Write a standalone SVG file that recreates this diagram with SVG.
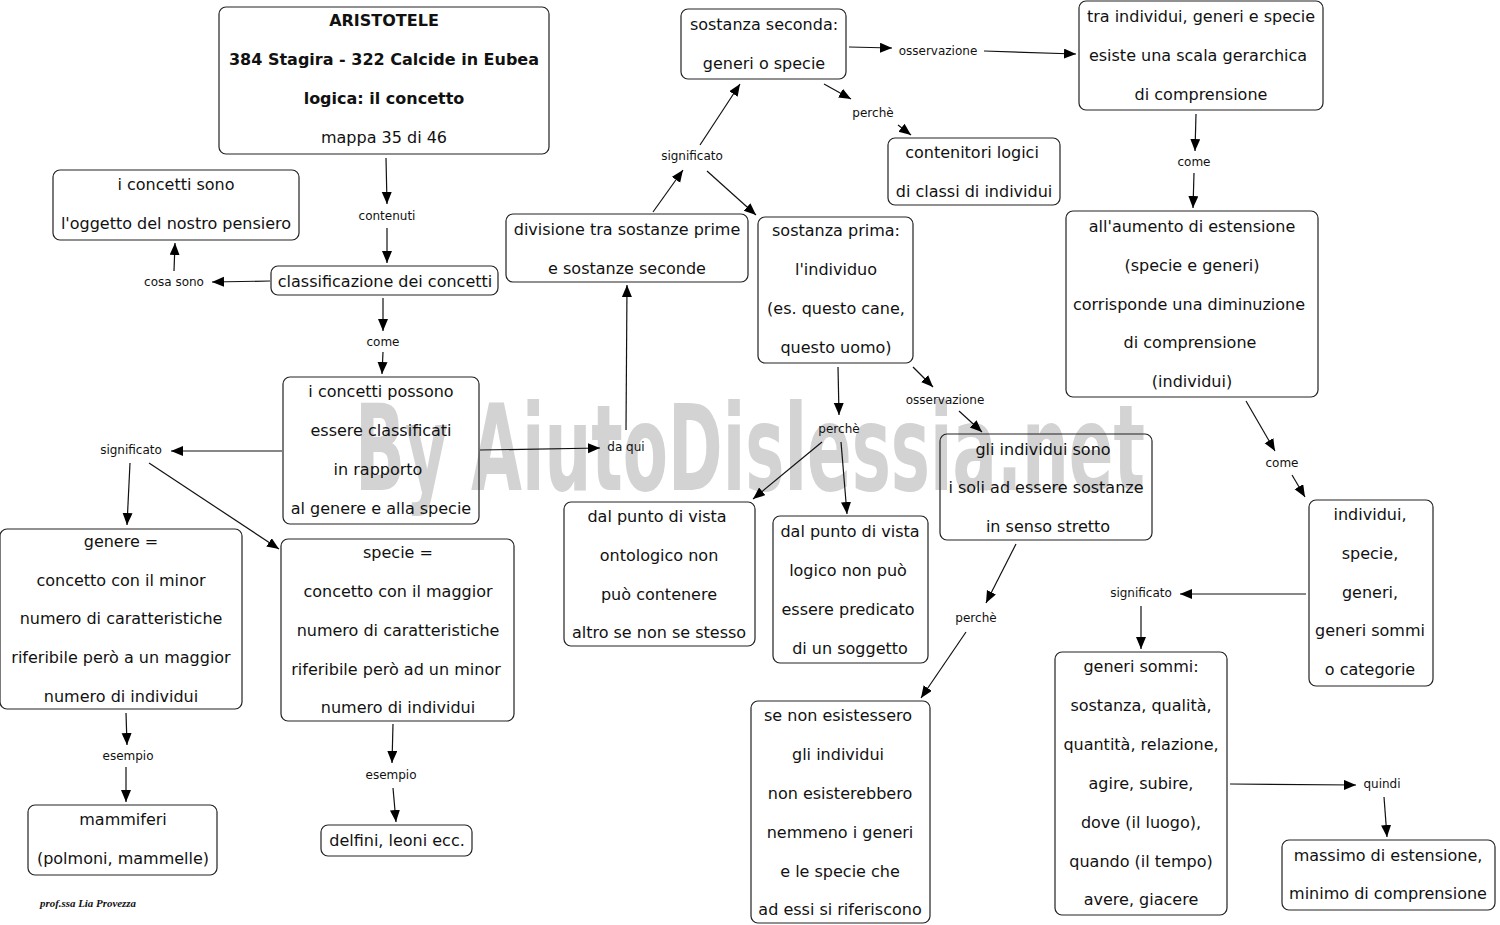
<svg xmlns="http://www.w3.org/2000/svg" width="1500" height="925" viewBox="0 0 1500 925">
<style>
.n rect{fill:none;stroke:#222;stroke-width:1.2}
.n text{font-family:"DejaVu Sans",Verdana,sans-serif;font-size:16px;fill:#111;text-anchor:middle}
.n text.b{font-weight:bold}
.l text{font-family:"DejaVu Sans",Verdana,sans-serif;font-size:12px;fill:#111;text-anchor:middle}
#connectors line{stroke:#111;stroke-width:1.2;marker-end:url(#ah)}
</style>
<defs>
<marker id="ah" markerUnits="userSpaceOnUse" markerWidth="13" markerHeight="11" refX="12" refY="5" orient="auto">
<path d="M0,0 L12,5 L0,10 z" fill="#000"/>
</marker>
</defs>
<rect width="1500" height="925" fill="#fff"/>
<text x="355" y="490" textLength="790" lengthAdjust="spacingAndGlyphs" font-family="'DejaVu Sans Condensed','DejaVu Sans',sans-serif" font-weight="bold" font-size="120" fill="#d3d3d3">By AiutoDislessia.net</text>

<g id="connectors">
<line x1="386" y1="158" x2="387" y2="204"/>
<line x1="387" y1="228" x2="387" y2="263"/>
<line x1="270" y1="281" x2="212" y2="282"/>
<line x1="174" y1="271" x2="175" y2="243"/>
<line x1="383" y1="298" x2="383" y2="331"/>
<line x1="383" y1="352" x2="382" y2="374"/>
<line x1="282" y1="451" x2="171" y2="451"/>
<line x1="130" y1="463" x2="127" y2="525"/>
<line x1="149" y1="463" x2="279" y2="549"/>
<line x1="480" y1="450" x2="600" y2="448"/>
<line x1="626" y1="430" x2="627" y2="285"/>
<line x1="653" y1="212" x2="683" y2="170"/>
<line x1="700" y1="145" x2="740" y2="84"/>
<line x1="707" y1="171" x2="756" y2="215"/>
<line x1="849" y1="47" x2="892" y2="48"/>
<line x1="984" y1="51" x2="1076" y2="54"/>
<line x1="824" y1="84" x2="851" y2="99"/>
<line x1="898" y1="125" x2="911" y2="135"/>
<line x1="1196" y1="114" x2="1195" y2="151"/>
<line x1="1194" y1="173" x2="1193" y2="208"/>
<line x1="1246" y1="401" x2="1275" y2="451"/>
<line x1="1292" y1="475" x2="1305" y2="497"/>
<line x1="1306" y1="594" x2="1180" y2="594"/>
<line x1="1141" y1="606" x2="1141" y2="649"/>
<line x1="1230" y1="784" x2="1356" y2="785"/>
<line x1="1384" y1="797" x2="1387" y2="837"/>
<line x1="126" y1="713" x2="127" y2="745"/>
<line x1="126" y1="767" x2="126" y2="802"/>
<line x1="393" y1="724" x2="392" y2="763"/>
<line x1="393" y1="788" x2="396" y2="822"/>
<line x1="838" y1="367" x2="839" y2="415"/>
<line x1="822" y1="442" x2="753" y2="499"/>
<line x1="841" y1="442" x2="847" y2="514"/>
<line x1="913" y1="367" x2="933" y2="387"/>
<line x1="959" y1="411" x2="982" y2="432"/>
<line x1="1016" y1="544" x2="986" y2="603"/>
<line x1="966" y1="632" x2="921" y2="698"/>
</g>

<g id="labels" class="l">
<text x="387" y="220">contenuti</text>
<text x="174" y="286">cosa sono</text>
<text x="383" y="346">come</text>
<text x="131" y="454">significato</text>
<text x="626" y="451">da qui</text>
<text x="128" y="760">esempio</text>
<text x="391" y="779">esempio</text>
<text x="692" y="160">significato</text>
<text x="938" y="55">osservazione</text>
<text x="873" y="117">perchè</text>
<text x="1194" y="166">come</text>
<text x="839" y="433">perchè</text>
<text x="945" y="404">osservazione</text>
<text x="976" y="622">perchè</text>
<text x="1282" y="467">come</text>
<text x="1141" y="597">significato</text>
<text x="1382" y="788">quindi</text>
</g>

<g id="n1" class="n"><rect x="219" y="7" width="330" height="147" rx="7"/>
<text class="b" x="384" y="26">ARISTOTELE</text>
<text class="b" x="384" y="65">384 Stagira - 322 Calcide in Eubea</text>
<text class="b" x="384" y="104">logica: il concetto</text>
<text x="384" y="143">mappa 35 di 46</text></g>

<g id="n2" class="n"><rect x="53" y="170" width="246" height="70" rx="7"/>
<text x="176" y="190">i concetti sono</text>
<text x="176" y="229">l'oggetto del nostro pensiero</text></g>

<g id="n3" class="n"><rect x="271" y="266" width="227" height="29" rx="7"/>
<text x="385" y="287">classificazione dei concetti</text></g>

<g id="n4" class="n"><rect x="283" y="377" width="196" height="147" rx="7"/>
<text x="381" y="397">i concetti possono</text>
<text x="381" y="436">essere classificati</text>
<text x="378" y="475">in rapporto</text>
<text x="381" y="514">al genere e alla specie</text></g>

<g id="n5" class="n"><rect x="0" y="529" width="242" height="180" rx="7"/>
<text x="121" y="547">genere =</text>
<text x="121" y="586">concetto con il minor</text>
<text x="121" y="624">numero di caratteristiche</text>
<text x="121" y="663">riferibile però a un maggior</text>
<text x="121" y="702">numero di individui</text></g>

<g id="n6" class="n"><rect x="281" y="539" width="233" height="182" rx="7"/>
<text x="398" y="558">specie =</text>
<text x="398" y="597">concetto con il maggior</text>
<text x="398" y="636">numero di caratteristiche</text>
<text x="396" y="675">riferibile però ad un minor</text>
<text x="398" y="713">numero di individui</text></g>

<g id="n7" class="n"><rect x="28" y="805" width="189" height="70" rx="7"/>
<text x="123" y="825">mammiferi</text>
<text x="123" y="864">(polmoni, mammelle)</text></g>

<g id="n8" class="n"><rect x="321" y="825" width="151" height="31" rx="7"/>
<text x="397" y="846">delfini, leoni ecc.</text></g>

<g id="n9" class="n"><rect x="506" y="214" width="242" height="68" rx="7"/>
<text x="627" y="235">divisione tra sostanze prime</text>
<text x="627" y="274">e sostanze seconde</text></g>

<g id="n10" class="n"><rect x="681" y="9" width="165" height="70" rx="7"/>
<text x="764" y="30">sostanza seconda:</text>
<text x="764" y="69">generi o specie</text></g>

<g id="n11" class="n"><rect x="888" y="138" width="172" height="67" rx="7"/>
<text x="972" y="158">contenitori logici</text>
<text x="974" y="197">di classi di individui</text></g>

<g id="n12" class="n"><rect x="1079" y="1" width="244" height="109" rx="7"/>
<text x="1201" y="22">tra individui, generi e specie</text>
<text x="1198" y="61">esiste una scala gerarchica</text>
<text x="1201" y="100">di comprensione</text></g>

<g id="n13" class="n"><rect x="758" y="217" width="155" height="146" rx="7"/>
<text x="836" y="236">sostanza prima:</text>
<text x="836" y="275">l'individuo</text>
<text x="836" y="314">(es. questo cane,</text>
<text x="836" y="353">questo uomo)</text></g>

<g id="n14" class="n"><rect x="1066" y="211" width="252" height="186" rx="7"/>
<text x="1192" y="232">all'aumento di estensione</text>
<text x="1192" y="271">(specie e generi)</text>
<text x="1189" y="310">corrisponde una diminuzione</text>
<text x="1190" y="348">di comprensione</text>
<text x="1192" y="387">(individui)</text></g>

<g id="n15" class="n"><rect x="940" y="434" width="212" height="106" rx="7"/>
<text x="1043" y="455">gli individui sono</text>
<text x="1046" y="493">i soli ad essere sostanze</text>
<text x="1048" y="532">in senso stretto</text></g>

<g id="n16" class="n"><rect x="564" y="502" width="191" height="144" rx="7"/>
<text x="657" y="522">dal punto di vista</text>
<text x="659" y="561">ontologico non</text>
<text x="659" y="600">può contenere</text>
<text x="659" y="638">altro se non se stesso</text></g>

<g id="n17" class="n"><rect x="773" y="516" width="155" height="147" rx="7"/>
<text x="850" y="537">dal punto di vista</text>
<text x="848" y="576">logico non può</text>
<text x="848" y="615">essere predicato</text>
<text x="850" y="654">di un soggetto</text></g>

<g id="n18" class="n"><rect x="751" y="701" width="179" height="222" rx="7"/>
<text x="838" y="721">se non esistessero</text>
<text x="838" y="760">gli individui</text>
<text x="840" y="799">non esisterebbero</text>
<text x="840" y="838">nemmeno i generi</text>
<text x="840" y="877">e le specie che</text>
<text x="840" y="915">ad essi si riferiscono</text></g>

<g id="n19" class="n"><rect x="1309" y="500" width="124" height="186" rx="7"/>
<text x="1370" y="520">individui,</text>
<text x="1370" y="559">specie,</text>
<text x="1370" y="598">generi,</text>
<text x="1370" y="636">generi sommi</text>
<text x="1370" y="675">o categorie</text></g>

<g id="n20" class="n"><rect x="1055" y="652" width="172" height="263" rx="7"/>
<text x="1141" y="672">generi sommi:</text>
<text x="1141" y="711">sostanza, qualità,</text>
<text x="1141" y="750">quantità, relazione,</text>
<text x="1141" y="789">agire, subire,</text>
<text x="1141" y="828">dove (il luogo),</text>
<text x="1141" y="867">quando (il tempo)</text>
<text x="1141" y="905">avere, giacere</text></g>

<g id="n21" class="n"><rect x="1282" y="840" width="213" height="70" rx="7"/>
<text x="1388" y="861">massimo di estensione,</text>
<text x="1388" y="899">minimo di comprensione</text></g>

<text x="40" y="907" font-family="'Liberation Serif',serif" font-style="italic" font-weight="bold" font-size="11" textLength="96" lengthAdjust="spacingAndGlyphs" fill="#111">prof.ssa Lia Provezza</text>
</svg>
